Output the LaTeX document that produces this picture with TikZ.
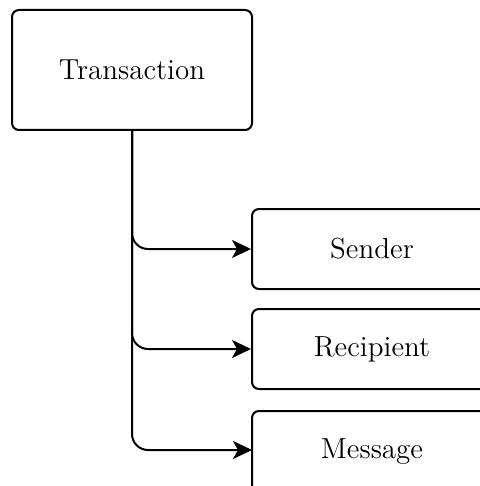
\documentclass[tikz,border=0pt]{standalone}
\usepackage{fontspec}
\usetikzlibrary{arrows.meta}
\begin{document}
\begin{tikzpicture}[x=0.5pt,y=-0.5pt,
  box/.style={draw=black,line width=1pt,rounded corners=3.5pt,fill=white,
    minimum width=120pt,inner sep=0pt,font=\fontsize{14.5}{17}\selectfont},
  link/.style={draw=black,line width=1pt,rounded corners=8pt,
    -{Stealth[length=9.5pt,width=9pt,inset=2.5pt]}}]
  \useasboundingbox (0,0) rectangle (480,486);
  \clip (0,0) rectangle (480,486);
  \fill[white] (0,0) rectangle (480,486);
  \node[box,minimum height=60pt] (tx) at (132,70) {Transaction};
  \node[box,minimum height=40pt] (snd) at (372,249) {Sender};
  \node[box,minimum height=40pt] (rcp) at (372,349) {Recipient};
  % the lower box runs on past the foot of the page; its label is lifted
  % so that it stays level with the arrow
  \node[box,minimum height=50pt,anchor=north,text height=9.9pt,text depth=12.8pt]
    (msg) at (372,410) {Message};
  \coordinate (msgin) at (252,450);
  \draw[link] (tx.south) |- (snd.west);
  \draw[link] (tx.south) |- (rcp.west);
  \draw[link] (tx.south) |- (msgin);
\end{tikzpicture}
\end{document}
